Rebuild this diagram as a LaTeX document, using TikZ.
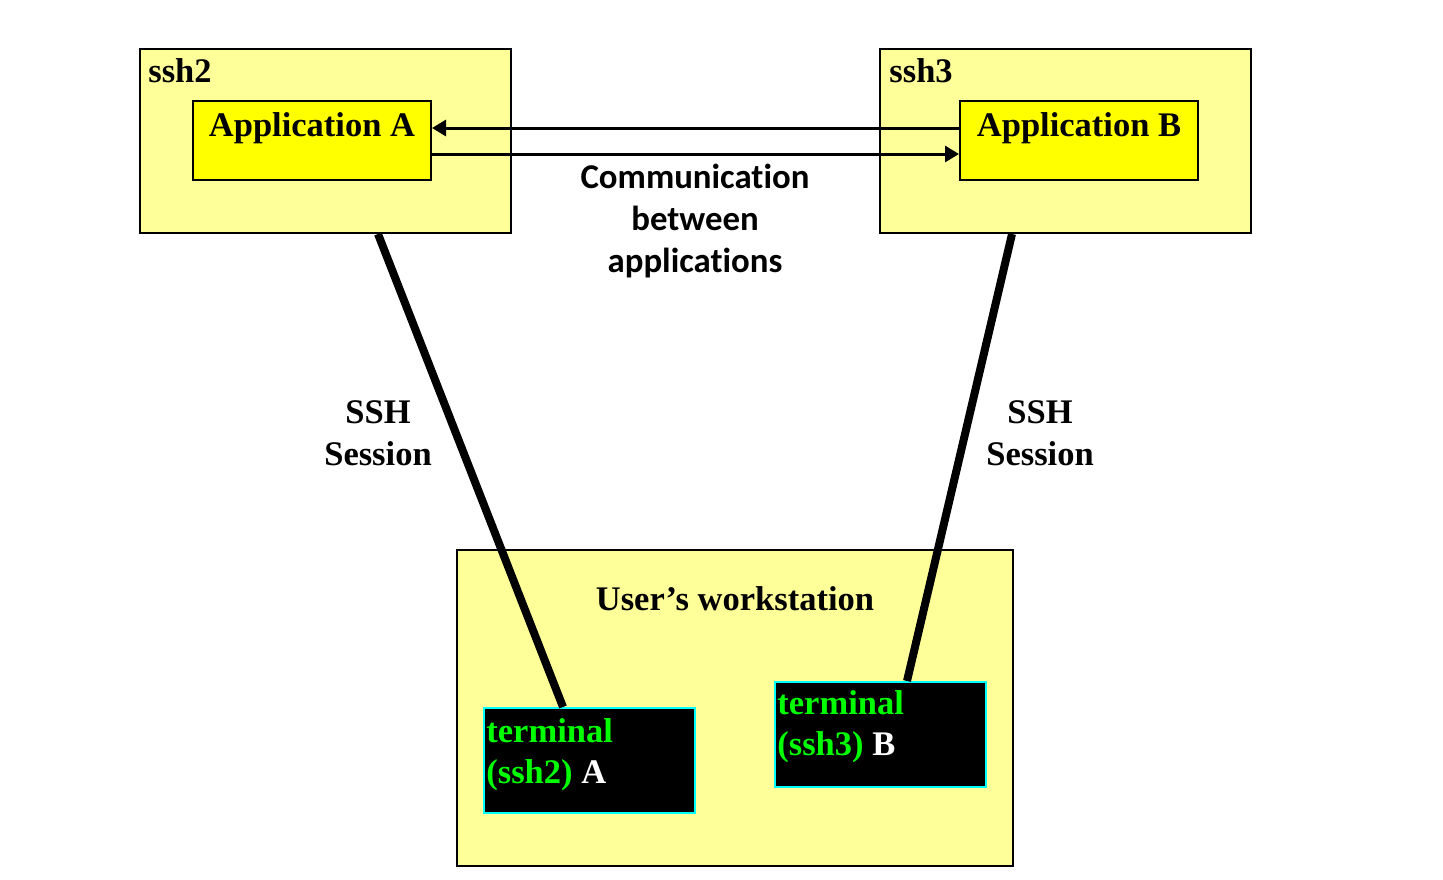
\documentclass[tikz,border=0pt]{standalone}
\usepackage{fontspec}
\setmainfont{Liberation Serif}
\newfontfamily\calfont[Ligatures=NoCommon]{Carlito}
\usetikzlibrary{fit,arrows.meta}
\definecolor{paleyellow}{HTML}{FFFF99}
\definecolor{appyellow}{HTML}{FFFF00}
\definecolor{termgreen}{HTML}{00FF00}
\definecolor{termcyan}{HTML}{00FFFF}
\tikzset{
 host/.style={draw=black, fill=paleyellow, line width=1pt, inner sep=0pt},
 app/.style={draw=black, fill=appyellow, line width=1pt, inner sep=0pt},
 term/.style={draw=termcyan, fill=black, line width=1pt, inner sep=0pt},
 lbl/.style={font=\fontsize{17.25}{21}\selectfont\bfseries, inner sep=0pt},
 comm/.style={font=\calfont\fontsize{17.4}{21.25}\selectfont\bfseries, inner sep=0pt, align=center},
 msg/.style={line width=1.5pt, -{Triangle[length=7pt,width=8pt]}},
 sess/.style={line width=4pt},
}
\begin{document}
\begin{tikzpicture}[x=0.5pt,y=-0.5pt]
\useasboundingbox[fill=white] (0,0) rectangle (1443,879);
% hosts
\node[host, fit={(140,49) (511,233)}] (ssh2) {};
\node[host, fit={(880,49) (1251,233)}] (ssh3) {};
\node[host, fit={(457,550) (1013,866)}] (ws) {};
\node[app, fit={(193,101) (431,180)}] (appA) {};
\node[app, fit={(960,101) (1198,180)}] (appB) {};
\node[term, fit={(484,708) (695,813)}] (termA) {};
\node[term, fit={(775,682) (986,787)}] (termB) {};
% labels
\node[lbl, anchor=base west] (l2) at (148,82) {ssh2};
\node[lbl, anchor=base west] (l3) at (889,82) {ssh3};
\node[lbl, anchor=base] (lA) at (312,136) {Application A};
\node[lbl, anchor=base] (lB) at (1079,136) {Application B};
\node[comm, anchor=base] (c1) at (695,188) {Communication};
\node[comm, anchor=base] (c2) at (695,230) {between};
\node[comm, anchor=base] (c3) at (695,272) {applications};
\node[lbl, anchor=base] (s1a) at (378,423) {SSH};
\node[lbl, anchor=base] (s1b) at (378,465) {Session};
\node[lbl, anchor=base] (s2a) at (1040,423) {SSH};
\node[lbl, anchor=base] (s2b) at (1040,465) {Session};
\node[lbl, anchor=base] (wsl) at (735,610) {User’s workstation};
\node[lbl, anchor=base west, text=termgreen] (tA1) at (486,742) {terminal};
\node[lbl, anchor=base west] (tA2) at (486,783) {\textcolor{termgreen}{(ssh2)} \textcolor{white}{A}};
\node[lbl, anchor=base west, text=termgreen] (tB1) at (777,714) {terminal};
\node[lbl, anchor=base west] (tB2) at (777,755) {\textcolor{termgreen}{(ssh3)} \textcolor{white}{B}};
% connectors
\draw[msg] ([yshift=6.25pt]appB.west) -- ([yshift=6.25pt]appA.east);
\draw[msg] ([yshift=-6.75pt]appA.east) -- ([yshift=-6.75pt]appB.west);
\draw[sess] ([xshift=26.25pt]ssh2.south) -- ([xshift=-13.25pt]termA.north);
\draw[sess] ([xshift=-26.75pt]ssh3.south) -- ([xshift=13.25pt]termB.north);
\end{tikzpicture}
\end{document}
